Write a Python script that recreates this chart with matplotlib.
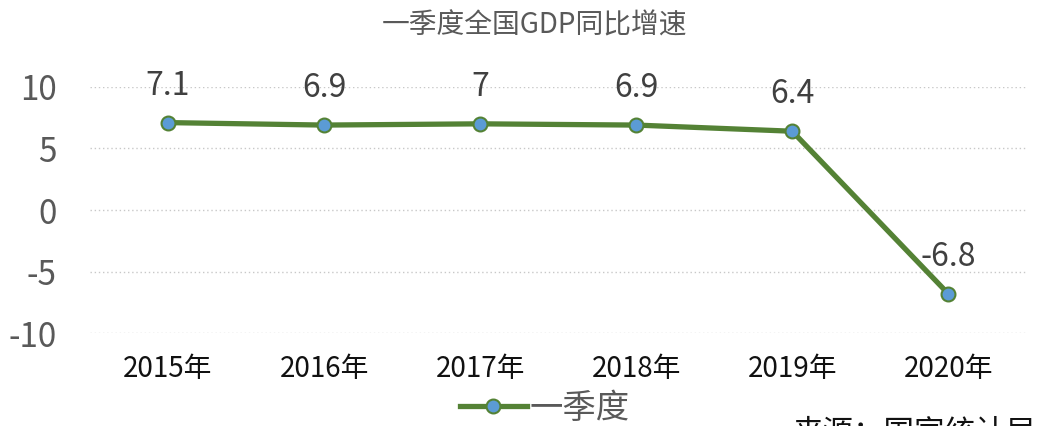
import matplotlib.pyplot as plt

plt.rcParams['font.family'] = ['Noto Sans CJK SC', 'DejaVu Sans']

# 数据
years = ["2015年", "2016年", "2017年", "2018年", "2019年", "2020年"]
growth = [7.1, 6.9, 7, 6.9, 6.4, -6.8]
labels = ["7.1", "6.9", "7", "6.9", "6.4", "-6.8"]
yticks = [-10, -5, 0, 5, 10]

fig = plt.figure(figsize=(10.38, 4.26), dpi=100)
ax = fig.add_axes([0.0867, 0.218, 0.902, 0.578])

x = list(range(len(years)))
ax.plot(x, growth, color="#548235", linewidth=3.8, marker="o", markersize=10,
        markerfacecolor="#5B9BD5", markeredgecolor="#548235", markeredgewidth=1.5,
        label="一季度", zorder=3)

# 数据标签
for xi, yi, lab in zip(x, growth, labels):
    ax.text(xi, yi + 1.7, lab, ha="center", va="bottom", fontsize=23, color="#404040")

ax.set_xlim(-0.5, len(years) - 0.5)
ax.set_ylim(-10, 10)
ax.set_yticks(yticks)
ax.set_yticklabels([str(t) for t in yticks], fontsize=24, color="#595959")
ax.set_xticks(x)
ax.set_xticklabels(years, fontsize=20, color="#111111")
ax.tick_params(length=0, axis="y", pad=24)
ax.tick_params(length=0, axis="x", pad=15)
ax.grid(axis="y", color="#C8C8C8", linestyle=(0, (1, 2)), linewidth=1)
for s in ax.spines.values():
    s.set_visible(False)

fig.text(0.515, 0.94, "一季度全国GDP同比增速", ha="center", va="center", fontsize=20, color="#595959")

ax.legend(loc="center", bbox_to_anchor=(0.486, -0.305), frameon=False,
          fontsize=24, handlelength=2.0, handletextpad=0.1, labelcolor="#595959")

fig.text(0.764, 0.02, "来源：国家统计局", ha="left", va="top", fontsize=22, color="#111111")

fig.savefig("out.png", dpi=100)
